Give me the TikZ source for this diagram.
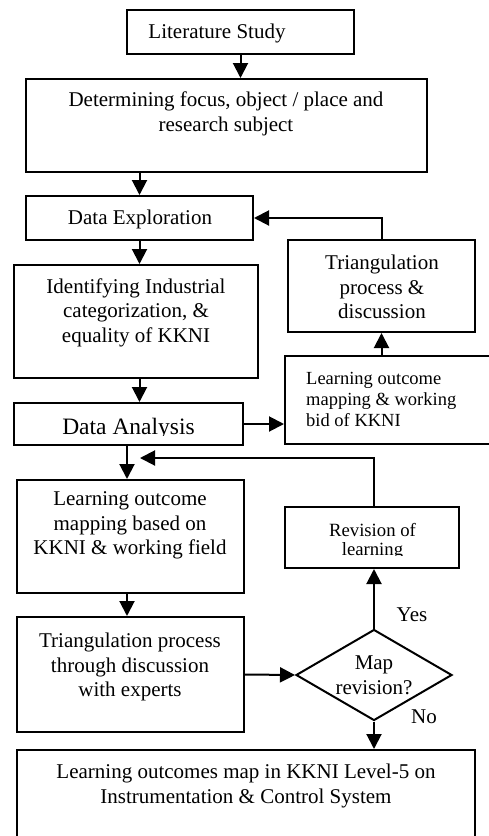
\documentclass[tikz,border=0pt]{standalone}
\usepackage{fontspec}
\setmainfont{Liberation Serif}
\usetikzlibrary{arrows.meta,shapes.geometric}
\begin{document}
\begin{tikzpicture}[x=1pt,y=-1pt,
  box/.style={draw,line width=2pt,inner sep=0pt,rectangle},
  txt/.style={align=center,inner sep=0pt,font=\fontsize{21}{24.5}\selectfont},
  small/.style={align=left,inner sep=0pt,font=\fontsize{18.5}{21}\selectfont},
  arr/.style={line width=2pt,-{Triangle[length=15pt,width=15pt]}}]
\useasboundingbox (0,0) rectangle (489,836);
\begin{scope}
\clip (0,0) rectangle (489,836);

% boxes
\node[box,minimum width=227,minimum height=44]  (lit)   at (240.5,32)  {};
\node[box,minimum width=401,minimum height=93]  (det)   at (226.5,125.5) {};
\node[box,minimum width=227,minimum height=44]  (dexp)  at (139.5,218) {};
\node[box,minimum width=187,minimum height=92]  (tri1)  at (381.5,286) {};
\node[box,minimum width=244,minimum height=113] (ident) at (136,321.5) {};
\node[box,minimum width=229,minimum height=42]  (dan)   at (128.5,424) {};
\node[box,minimum width=235,minimum height=88]  (lobid) at (402.5,400) {};
\node[box,minimum width=174,minimum height=61]  (rev)   at (372,537.5) {};
\node[box,minimum width=227,minimum height=113] (lomap) at (130.5,536.5) {};
\node[box,minimum width=227,minimum height=115] (trip)  at (130.5,674.5) {};
\node[draw,line width=2pt,diamond,inner sep=0pt,minimum width=156,minimum height=91] (dia) at (374,675) {};
\node[box,minimum width=458,minimum height=120] (final) at (246,810) {};

% texts
\node[txt] (litT) at (217,33) {Literature Study};
\node[txt] (detT) at (226,114) {Determining focus, object / place and\\research subject};
\node[txt] (dexpT) at (140,219) {Data Exploration};
\node[txt] (tri1T) at (382,287) {Triangulation\\process \&\\discussion};
\node[txt] (identT) at (136,312.5) {Identifying Industrial\\categorization, \&\\equality of KKNI};
\begin{scope}
  \clip (14,403) rectangle (243,435);
  \node[txt,font=\fontsize{23.5}{26}\selectfont,anchor=base] (danT) at (128.5,434.5) {Data Analysis};
\end{scope}
\node[small,anchor=west] (lobidT) at (306,399) {Learning outcome\\mapping \& working\\bid of KKNI};
\begin{scope}
  \clip (285,507) rectangle (459,555);
  \node[txt,font=\fontsize{18.7}{19.5}\selectfont,anchor=north] (revT) at (372.5,522.7) {Revision of\\learning};
\end{scope}
\node[txt] (lomapT) at (130,525.5) {Learning outcome\\mapping based on\\KKNI \& working field};
\node[txt] (tripT) at (130,667) {Triangulation process\\through discussion\\with experts};
\node[txt] (diaT) at (374,675.5) {Map\\revision?};
\node[txt] (finalT) at (246,786) {Learning outcomes map in KKNI Level-5 on\\Instrumentation \& Control System};
\node[txt] (yes) at (412,615) {Yes};
\node[txt] (no) at (424,717) {No};

% connectors
\coordinate (c1) at (127,0);
\coordinate (back) at (140,458);
\draw[arr] (lit.south) -- (lit.south |- det.north);
\draw[arr] (dexp.north |- det.south) -- (dexp.north);
\draw[arr] (dexp.south) -- (dexp.south |- ident.north);
\draw[arr] (ident.south -| dexp.south) -- (dexp.south |- dan.north);
\draw[arr] (dan.south -| c1) -- (lomap.north -| c1);
\draw[arr] (lomap.south -| c1) -- (trip.north -| c1);
\draw[arr] (dan.east) -- (dan.east -| lobid.west);
\draw[arr] (lobid.north -| tri1.south) -- (tri1.south);
\draw[arr] (tri1.north) |- (dexp.east);
\draw[arr] (trip.east) -- (dia.west);
\draw[arr] (dia.north) -- (dia.north |- rev.south);
\draw[arr] (dia.south) -- (dia.south |- final.north);
\draw[arr] (rev.north -| dia.north) |- (back);
\end{scope}
\end{tikzpicture}
\end{document}
